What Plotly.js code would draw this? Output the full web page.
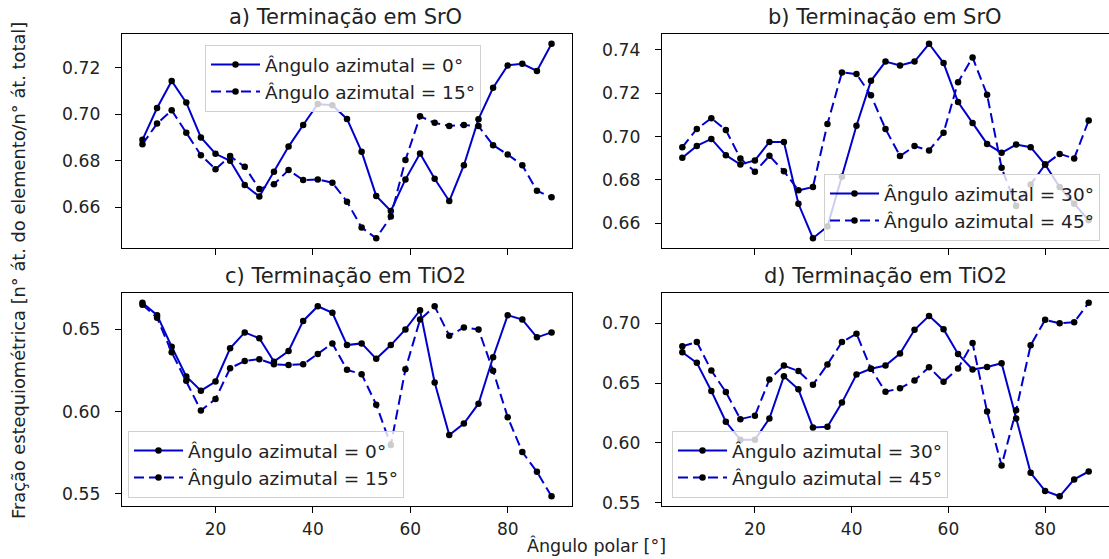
<!DOCTYPE html>
<html>
<head>
<meta charset="utf-8">
<script src="https://cdn.plot.ly/plotly-3.0.1.min.js"></script>
<style>html,body{margin:0;padding:0;overflow:hidden;background:#fff;}</style>
</head>
<body>
<div id="chart" style="width:1109px;height:559px;"></div>
<script>
// Polar angles (degrees)
const polar = [5,8,11,14,17,20,23,26,29,32,35,38,41,44,47,50,53,56,59,62,65,68,71,74,77,80,83,86,89];

// a) SrO termination
const a_az0  = [0.689,0.7027,0.7143,0.705,0.690,0.683,0.680,0.6696,0.6646,0.6753,0.6861,0.6954,0.7044,0.7039,0.698,0.6839,0.6649,0.6584,0.672,0.6831,0.6723,0.6627,0.6781,0.6979,0.7114,0.721,0.7217,0.7186,0.7303];
const a_az15 = [0.6871,0.696,0.7017,0.6921,0.6824,0.6764,0.682,0.6774,0.6679,0.6699,0.676,0.6717,0.672,0.6706,0.6624,0.6513,0.6467,0.656,0.6803,0.6991,0.6963,0.695,0.6954,0.6949,0.6867,0.6827,0.6781,0.6671,0.6643];

// b) SrO termination
const b_az30 = [0.6902,0.6957,0.6989,0.6914,0.6871,0.689,0.6975,0.6975,0.669,0.6531,0.6585,0.6815,0.705,0.7257,0.7346,0.7328,0.7346,0.7428,0.7339,0.7159,0.7063,0.6966,0.6925,0.6963,0.6951,0.6871,0.6767,0.669,0.6614];
const b_az45 = [0.6951,0.7035,0.7085,0.703,0.6899,0.6838,0.6911,0.684,0.6752,0.6767,0.7058,0.7296,0.7288,0.719,0.7035,0.691,0.6956,0.6936,0.7017,0.7251,0.7365,0.7193,0.6856,0.668,0.6779,0.6871,0.692,0.6899,0.7074];

// c) TiO2 termination
const c_az0  = [0.6663,0.6587,0.6395,0.6214,0.6127,0.6183,0.6385,0.6482,0.6446,0.6304,0.6369,0.6552,0.6641,0.6601,0.6405,0.6415,0.6321,0.6405,0.65,0.6617,0.6177,0.5857,0.5927,0.6048,0.6331,0.6587,0.656,0.6452,0.6482];
const c_az15 = [0.6651,0.6571,0.6361,0.6188,0.6006,0.6077,0.6264,0.6308,0.6319,0.6288,0.6284,0.6288,0.6351,0.6415,0.6254,0.6228,0.6042,0.5796,0.6258,0.656,0.6641,0.6462,0.6512,0.65,0.6248,0.5966,0.5754,0.5633,0.5484];

// d) TiO2 termination
const d_az30 = [0.6757,0.6669,0.6434,0.6177,0.6028,0.6028,0.6204,0.6558,0.6448,0.613,0.6135,0.6337,0.6572,0.6619,0.6646,0.6746,0.6945,0.7061,0.695,0.6743,0.6613,0.6635,0.6666,0.6204,0.5751,0.56,0.5555,0.5696,0.5762];
const d_az45 = [0.6807,0.6843,0.6605,0.6425,0.6199,0.6227,0.653,0.6646,0.66,0.6486,0.6655,0.6843,0.6912,0.6619,0.6428,0.6456,0.6522,0.6633,0.6511,0.6622,0.6834,0.6262,0.5812,0.6273,0.6815,0.7028,0.70,0.7008,0.7171];

const titles = ['a) Terminação em SrO','b) Terminação em SrO','c) Terminação em TiO2','d) Terminação em TiO2'];
const labels = {a:['Ângulo azimutal = 0°','Ângulo azimutal = 15°'], b:['Ângulo azimutal = 30°','Ângulo azimutal = 45°'],
                c:['Ângulo azimutal = 0°','Ângulo azimutal = 15°'], d:['Ângulo azimutal = 30°','Ângulo azimutal = 45°']};
const xTicks = [20,40,60,80];

const W = 1109, H = 559;
const FONT = 'DejaVu Sans';
const TXT = '#222';
const BLUE = '#0000cd';

function tr(y, name, dashed, xa, ya, leg) {
  return {x: polar, y: y, name: name, type: 'scatter', mode: 'lines+markers',
    xaxis: xa, yaxis: ya, legend: leg,
    line: {color: BLUE, width: 2, dash: dashed ? '10px,5px' : 'solid'},
    marker: {color: 'black', size: 6.5}};
}

const data = [
  tr(a_az0, labels.a[0], false, 'x', 'y', 'legend'),
  tr(a_az15, labels.a[1], true, 'x', 'y', 'legend'),
  tr(b_az30, labels.b[0], false, 'x2', 'y2', 'legend2'),
  tr(b_az45, labels.b[1], true, 'x2', 'y2', 'legend2'),
  tr(c_az0, labels.c[0], false, 'x3', 'y3', 'legend3'),
  tr(c_az15, labels.c[1], true, 'x3', 'y3', 'legend3'),
  tr(d_az30, labels.d[0], false, 'x4', 'y4', 'legend4'),
  tr(d_az45, labels.d[1], true, 'x4', 'y4', 'legend4')
];

// pixel boxes of the four panels
const px = {a:[122,572,34,248], b:[662,1109,34,248], c:[122,572,293,506], d:[662,1109,293,506]};
function dx(p){return [p[0]/W, p[1]/W];}
function dy(p){return [1-p[3]/H, 1-p[2]/H];}

function xax(p, labels, anchor) {
  return {domain: dx(p), anchor: anchor, range: [0.8, 93.2], tickvals: xTicks, showticklabels: labels,
    ticks: 'outside', ticklen: 6, tickcolor: '#000', showline: true, linecolor: '#000', linewidth: 1.2,
    mirror: true, showgrid: false, zeroline: false, ticklabelstandoff: 1,
    tickfont: {family: FONT, size: 17, color: TXT}};
}
function yax(p, range, dtick, tick0, anchor) {
  return {domain: dy(p), anchor: anchor, range: range, dtick: dtick, tick0: tick0, tickformat: '.2f',
    ticks: 'outside', ticklen: 6, tickcolor: '#000', showline: true, linecolor: '#000', linewidth: 1.2,
    mirror: true, showgrid: false, zeroline: false, ticklabelstandoff: 11,
    tickfont: {family: FONT, size: 17.2, color: TXT}};
}
function legend(x, y, xa, ya) {
  return {x: x, y: y, xanchor: xa, yanchor: ya, bgcolor: 'rgba(255,255,255,0.8)', bordercolor: '#d0d0d0',
    borderwidth: 1, font: {family: FONT, size: 18.5, color: TXT}, itemwidth: 49, tracegroupgap: 0};
}

const annotations = [];
const titleCx = [345, 885, 345, 885];
[px.a, px.b, px.c, px.d].forEach((p, i) => {
  annotations.push({text: titles[i], x: titleCx[i] / W, y: 1 - (p[2] - 3) / H, xref: 'paper', yref: 'paper',
    xanchor: 'center', yanchor: 'bottom', showarrow: false, font: {family: FONT, size: 21, color: TXT}});
});
annotations.push({text: 'Ângulo polar [°]', x: 596 / W, y: 1 - 545 / H, xref: 'paper', yref: 'paper',
  xanchor: 'center', yanchor: 'middle', showarrow: false, font: {family: FONT, size: 17.5, color: TXT}});
annotations.push({text: 'Fração estequiométrica [n° át. do elemento/n° át. total]', x: 18 / W, y: 1 - 271 / H,
  xref: 'paper', yref: 'paper', xanchor: 'center', yanchor: 'middle', textangle: -90, showarrow: false,
  font: {family: FONT, size: 17.8, color: TXT}});

const layout = {
  width: W, height: H, margin: {l: 0, r: 0, t: 0, b: 0},
  paper_bgcolor: '#fff', plot_bgcolor: '#fff', showlegend: true,
  xaxis: xax(px.a, false, 'y'), yaxis: yax(px.a, [0.6425, 0.7345], 0.02, 0.66, 'x'),
  xaxis2: xax(px.b, false, 'y2'), yaxis2: yax(px.b, [0.6486, 0.7473], 0.02, 0.66, 'x2'),
  xaxis3: xax(px.c, true, 'y3'), yaxis3: yax(px.c, [0.5425, 0.6722], 0.05, 0.55, 'x3'),
  xaxis4: xax(px.d, true, 'y4'), yaxis4: yax(px.d, [0.5474, 0.7252], 0.05, 0.55, 'x4'),
  legend: legend(205 / W, 1 - 45 / H, 'left', 'top'),
  legend2: legend(1100 / W, 1 - 241 / H, 'right', 'bottom'),
  legend3: legend(128 / W, 1 - 498 / H, 'left', 'bottom'),
  legend4: legend(672 / W, 1 - 498 / H, 'left', 'bottom'),
  annotations: annotations
};

Plotly.newPlot('chart', data, layout, {displayModeBar: false, staticPlot: true});
</script>
</body>
</html>
